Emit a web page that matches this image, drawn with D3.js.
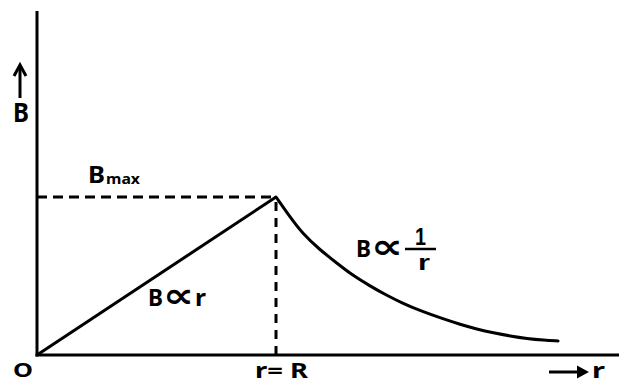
<!DOCTYPE html>
<html>
<head>
<meta charset="utf-8">
<script src="https://cdn.jsdelivr.net/npm/d3@7"></script>
<style>
  html, body { margin: 0; padding: 0; background: #fff; }
  svg { display: block; }
  text { font-family: "Noto Sans", "DejaVu Sans", sans-serif; font-weight: 700; fill: #000; }
</style>
</head>
<body>
<div id="chart"></div>
<script>
// B vs r for a long straight conductor (inside: B ∝ r, outside: B ∝ 1/r)
// r in units of R, B in units of Bmax
const insideR = [0, 1];
const insideB = [0, 1];
const outsideR = [1.00, 1.06, 1.11, 1.18, 1.26, 1.32, 1.39, 1.46, 1.53, 1.60, 1.70, 1.77, 1.84, 1.91, 1.98, 2.05, 2.12, 2.18];
const outsideB = [1.00, 0.87, 0.77, 0.67, 0.575, 0.505, 0.44, 0.38, 0.327, 0.282, 0.228, 0.194, 0.164, 0.14, 0.12, 0.104, 0.094, 0.089];
const rDomain = [0, 2.435];
const bDomain = [0, 2.177];

const W = 619, H = 385;
const m = { t: 11, r: 0, b: 30, l: 37 };

const svg = d3.select('#chart').append('svg')
  .attr('width', W).attr('height', H);

const x = d3.scaleLinear().domain(rDomain).range([m.l, W - m.r]);
const y = d3.scaleLinear().domain(bDomain).range([H - m.b, m.t]);

const line = d3.line().x(d => x(d[0])).y(d => y(d[1]));

// axes
svg.append('line')
  .attr('x1', x(0)).attr('x2', x(0))
  .attr('y1', y(bDomain[1])).attr('y2', y(0) + 1.5)
  .attr('stroke', '#000').attr('stroke-width', 3);
svg.append('line')
  .attr('x1', x(0) - 1.5).attr('x2', x(rDomain[1]))
  .attr('y1', y(0)).attr('y2', y(0))
  .attr('stroke', '#000').attr('stroke-width', 3);

// dashed guides at r = R, B = Bmax
svg.append('line')
  .attr('x1', x(0)).attr('x2', x(1))
  .attr('y1', y(1)).attr('y2', y(1))
  .attr('stroke', '#000').attr('stroke-width', 3)
  .attr('stroke-dasharray', '10 6');
svg.append('line')
  .attr('x1', x(1)).attr('x2', x(1))
  .attr('y1', y(1) + 5).attr('y2', y(0))
  .attr('stroke', '#000').attr('stroke-width', 3)
  .attr('stroke-dasharray', '9 7');

// curves
svg.append('path')
  .datum(insideR.map((r, i) => [r, insideB[i]]))
  .attr('fill', 'none').attr('stroke', '#000').attr('stroke-width', 3)
  .attr('d', line);
svg.append('path')
  .datum(outsideR.map((r, i) => [r, outsideB[i]]))
  .attr('fill', 'none').attr('stroke', '#000').attr('stroke-width', 3)
  .attr('stroke-linecap', 'round')
  .attr('d', line.curve(d3.curveBasis));

// up arrow next to B
svg.append('line')
  .attr('x1', 20).attr('x2', 20).attr('y1', 98).attr('y2', 66)
  .attr('stroke', '#000').attr('stroke-width', 3);
svg.append('path')
  .attr('d', 'M14,76 L20,65 L26,76')
  .attr('fill', 'none').attr('stroke', '#000').attr('stroke-width', 3);

// right arrow next to r
svg.append('line')
  .attr('x1', 549).attr('x2', 582).attr('y1', 372).attr('y2', 372)
  .attr('stroke', '#000').attr('stroke-width', 3);
svg.append('path')
  .attr('d', 'M577,365.5 L589,372 L577,378.5 Z')
  .attr('fill', '#000');

// labels (stretched to the widths seen in the figure)
const label = (tx, ty, s, size, len) => {
  const t = svg.append('text')
    .attr('x', tx).attr('y', ty)
    .attr('font-size', size)
    .text(s);
  if (len) t.attr('textLength', len).attr('lengthAdjust', 'spacingAndGlyphs');
  return t;
};

label(13, 122, 'B', 26, 16);
label(13, 377, 'O', 20, 20);
label(255, 378, 'r= R', 22, 53);
label(592, 378, 'r', 22, 13);

label(88, 183, 'B', 23, 17);
label(106, 184, 'max', 15, 34);

label(148, 306, 'B', 23, 15);
label(163, 307, '\u221D', 34, 31).style('font-family', '"DejaVu Sans", sans-serif');
label(195, 306, 'r', 23, 11);

label(356, 257, 'B', 23, 15);
label(371, 258, '\u221D', 34, 32).style('font-family', '"DejaVu Sans", sans-serif');
svg.append('line')
  .attr('x1', 405).attr('x2', 436).attr('y1', 249).attr('y2', 249)
  .attr('stroke', '#000').attr('stroke-width', 2.5);
label(415, 245, '1', 23, 11).style('font-family', '"Liberation Sans", sans-serif');
label(418, 270, 'r', 22, 12).style('font-family', '"Liberation Sans", sans-serif');
</script>
</body>
</html>
